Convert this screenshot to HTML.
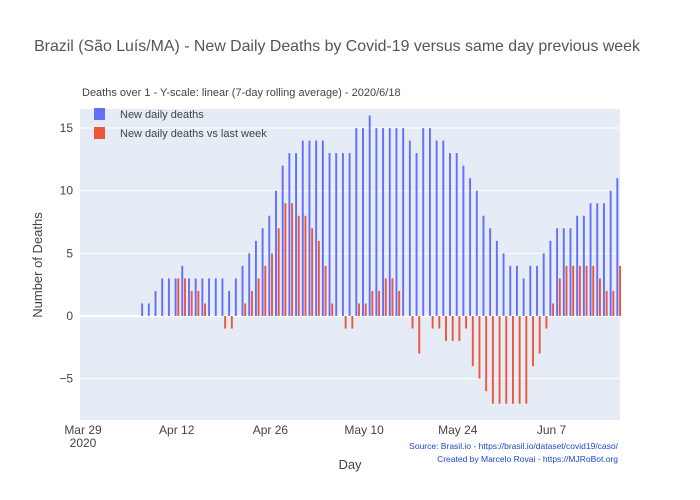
<!DOCTYPE html>
<html><head><meta charset="utf-8"><style>
body{margin:0;background:#fff;}
svg{display:block;font-family:"Liberation Sans","DejaVu Sans",sans-serif;}
</style></head><body>
<svg id="chart" width="700" height="500">
<rect x="80" y="109" width="540" height="311" fill="#e5ecf6"/>
<g id="grid"></g>
<g id="bars"></g>
<g id="yticks"></g>
<g id="xticks"></g>
<text x="337" y="51" text-anchor="middle" font-size="15.9" fill="#555">Brazil (São Luís/MA) - New Daily Deaths by Covid-19 versus same day previous week</text>
<text x="82" y="96" font-size="11" fill="#444">Deaths over 1 - Y-scale: linear (7-day rolling average) - 2020/6/18</text>
<g>
<rect x="94" y="108" width="11" height="12" fill="#636efa"/>
<text x="120" y="118" font-size="11" fill="#444">New daily deaths</text>
<rect x="94" y="127" width="11" height="12" fill="#ef553b"/>
<text x="120" y="137" font-size="11" fill="#444">New daily deaths vs last week</text>
</g>
<text transform="translate(42,265) rotate(-90)" text-anchor="middle" font-size="13" fill="#444">Number of Deaths</text>
<text x="350" y="469" text-anchor="middle" font-size="13" fill="#444">Day</text>
<text x="618" y="449" text-anchor="end" font-size="8.5" fill="#1f45d8">Source: Brasil.io - https://brasil.io/dataset/covid19/caso/</text>
<text x="618" y="462" text-anchor="end" font-size="8.5" fill="#1f45d8">Created by Marcelo Rovai - https://MJRoBot.org</text>
</svg>
<script>
// day index 0 = Mar 29, 2020
const newDeaths = [0,0,0,0,0,0,0,0,0,1,1,2,3,3,3,4,3,3,3,3,3,3,2,3,4,5,6,7,8,10,12,13,13,14,14,14,14,13,13,13,13,15,15,16,15,15,15,15,15,14,13,15,15,14,14,13,13,12,11,10,8,7,6,5,4,4,3,4,4,5,6,7,7,7,8,8,9,9,9,10,11];
const vsLastWeek = [null,null,null,null,null,null,null,null,null,null,null,null,null,null,3,3,2,2,1,0,0,-1,-1,0,1,2,3,4,5,7,9,9,8,8,7,6,4,1,0,-1,-1,1,1,2,2,3,3,2,0,-1,-3,0,-1,-1,-2,-2,-2,-1,-4,-5,-6,-7,-7,-7,-7,-7,-7,-4,-3,-1,1,3,4,4,4,4,4,3,2,2,4];
const yTicks = [-5,0,5,10,15];
const yTickLabels = ["−5","0","5","10","15"];
const xTickDays = [0,14,28,42,56,70];
const xTickLabels = ["Mar 29","Apr 12","Apr 26","May 10","May 24","Jun 7"];
const NS="http://www.w3.org/2000/svg";
const xS = d => 83 + d*(93.7/14);
const yS = v => 316 - v*12.53;
function mk(tag, attrs, parent){const e=document.createElementNS(NS,tag);for(const k in attrs)e.setAttribute(k,attrs[k]);document.getElementById(parent).appendChild(e);return e;}
yTicks.forEach((t,i)=>{
  const g=mk('line',{x1:80,x2:620,y1:yS(t),y2:yS(t),stroke:'#fff','stroke-width':t===0?2:1},'grid');
  
  
  const l=mk('text',{x:73,y:yS(t)+4,'text-anchor':'end','font-size':12,fill:'#444'},'yticks');
  l.textContent=yTickLabels[i];
  
  
});
xTickDays.forEach((d,i)=>{
  const l=mk('text',{x:xS(d),y:434,'text-anchor':'middle','font-size':12,fill:'#444'},'xticks');
  l.textContent=xTickLabels[i];
  
  
});
const yr=mk('text',{x:xS(0),y:447,'text-anchor':'middle','font-size':12,fill:'#444'},'xticks');
yr.textContent='2020';


const bw=1.9;
newDeaths.forEach((v,d)=>{
  if(v===null||v===0)return;
  const cx=xS(d)-1.1;
  const r=mk('rect',{x:cx-bw/2,y:Math.min(yS(v),yS(0)),width:bw,height:Math.abs(yS(v)-yS(0)),fill:'#636efa'},'bars');
  
  
});
vsLastWeek.forEach((v,d)=>{
  if(v===null||v===0)return;
  const cx=xS(d)+1.6;
  const r=mk('rect',{x:cx-bw/2,y:Math.min(yS(v),yS(0)),width:bw,height:Math.abs(yS(v)-yS(0)),fill:'#ef553b'},'bars');
  
  
});
</script>
</body></html>
